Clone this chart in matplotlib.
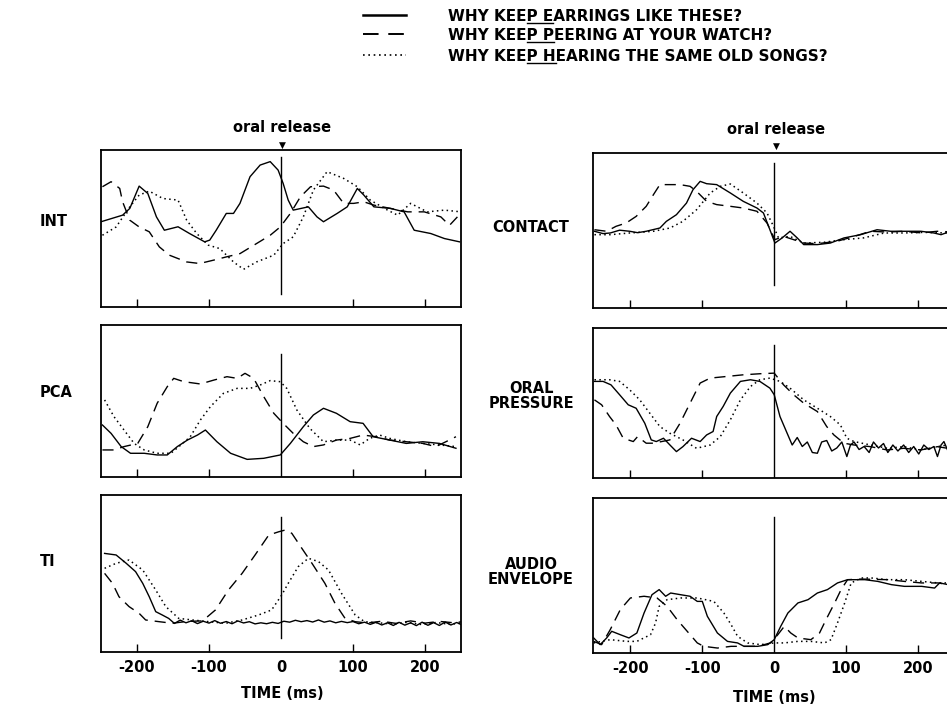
#!/usr/bin/env python
# -*- coding: utf-8 -*-
"""
Articulatory / acoustic traces aligned on oral release for three sentences.
"""

import matplotlib
matplotlib.use("Agg")
import matplotlib.pyplot as plt

FONT = "DejaVu Sans"
FS = 10.5
FS_LEGEND = 11

SENTENCES = [
    "WHY KEEP EARRINGS LIKE THESE?",
    "WHY KEEP PEERING AT YOUR WATCH?",
    "WHY KEEP HEARING THE SAME OLD SONGS?",
]

TICKS = [-200, -100, 0, 100, 200]
TICK_LABELS = ["-200", "-100", "0", "100", "200"]

# values are in % of panel height, time in ms relative to oral release
INT_SOLID_T = [-250, -220, -210, -197, -185, -173, -162, -143, -127, -106, -99, -90, -76, -66, -57, -43,
               -29, -15, -4, 3, 10, 17, 38, 50, 59, 78, 92, 106, 115, 129, 152, 171, 185, 208, 227, 248]
INT_SOLID_V = [54.3, 58.5, 62.8, 77.0, 72.3, 57.4, 48.9, 51.1, 46.8, 41.5, 42.6, 48.9, 59.6, 59.6, 66.0, 83.0,
               90.4, 92.6, 87.2, 78.7, 68.1, 61.7, 63.8, 57.4, 54.3, 59.6, 63.8, 75.5, 71.3, 63.8, 62.8, 60.6,
               48.9, 46.8, 43.6, 41.5]
INT_DASH_T = [-248, -236, -224, -220, -210, -197, -183, -169, -155, -131, -113, -94, -76, -57, -34, -15, -1,
              13, 27, 41, 59, 73, 87, 101, 115, 129, 152, 176, 199, 222, 234, 245]
INT_DASH_V = [76.6, 79.8, 75.5, 67, 55.3, 51, 47.9, 38.3, 33, 28.7, 27.7, 29.8, 31.9, 34, 40.4, 45.7, 51,
              59.6, 70.2, 76.6, 77, 74.5, 66, 66, 67, 64.9, 62.8, 60.6, 60.6, 57.4, 52, 57.4]
INT_DOT_T = [-248, -229, -210, -197, -183, -164, -143, -131, -117, -101, -85, -66, -52, -34, -10, 3, 17, 31,
             45, 64, 87, 106, 124, 148, 162, 180, 203, 227, 250]
INT_DOT_V = [45.7, 51, 63.8, 71.3, 73.8, 69.1, 68.1, 55.3, 46.8, 39.4, 37.2, 28.7, 24, 28.7, 33, 40.4, 44.7,
             57.4, 74.5, 86.2, 81.9, 76.6, 68.1, 61.7, 58.5, 66, 60.6, 61.7, 60.6]

PCA_SOLID_T = [-248, -236, -222, -209, -190, -172, -158, -144, -130, -116, -105, -89, -70, -47, -24, -1, 13,
               31, 45, 59, 77, 96, 114, 128, 151, 174, 197, 220, 243]
PCA_SOLID_V = [34.2, 28.7, 20, 15.6, 15.6, 14.5, 14.5, 20, 24.3, 27.6, 30.9, 23.2, 15.6, 11.6, 12.3, 14.5,
               22.1, 33.1, 40.8, 45.2, 41.9, 36.4, 35.3, 26.5, 24.3, 22.1, 23.2, 22.1, 18.9]
PCA_DASH_T = [-248, -232, -218, -199, -185, -172, -158, -149, -135, -112, -93, -75, -61, -50, -38, -24, -10,
              3, 17, 31, 45, 59, 77, 96, 114, 132, 151, 174, 197, 215, 229, 243]
PCA_DASH_V = [17.8, 17.8, 20, 22.1, 33.1, 48.5, 59.4, 64.9, 62.7, 61.2, 63.8, 66, 64.9, 68.2, 64.9, 52.9,
              41.9, 35.3, 28.7, 23.2, 20, 21.1, 24.3, 25.4, 27.6, 26.5, 24.3, 23.2, 22.1, 20, 23.2, 26.5]
PCA_DOT_T = [-245, -232, -218, -204, -190, -172, -153, -139, -126, -112, -98, -80, -61, -43, -29, -15, -1, 8,
             22, 40, 59, 77, 96, 110, 123, 137, 151, 174, 197, 220, 243]
PCA_DOT_V = [50.7, 39.7, 30.9, 22.1, 17.8, 15.6, 15.6, 21.1, 26.5, 37.5, 46.3, 55, 58.3, 58.3, 60.5, 63.4,
             62.7, 58.3, 44.1, 32, 23.2, 24.3, 24.3, 21.1, 25.4, 27.6, 25.4, 23.2, 22.1, 21.1, 20]

TI_SOLID_T = [-245, -229, -215, -202, -192, -183, -174, -165, -156, -148, -140, -132, -124, -116, -108, -100,
              -92, -84, -76, -68, -60, -52, -44, -36, -28, -20, -12, -4, 4, 12, 20, 28, 36, 44, 52, 60, 68,
              76, 84, 92, 100, 108, 116, 124, 132, 140, 148, 156, 164, 172, 180, 188, 196, 204, 212, 220,
              228, 236, 244, 250]
TI_SOLID_V = [62.8, 61.8, 56.5, 51.2, 43.7, 35.2, 25.7, 23.6, 21.4, 18.2, 20.3, 18.6, 19.9, 18.1, 19.6, 18.4,
              20.0, 18.3, 19.4, 18.0, 19.8, 18.5, 19.3, 17.9, 18.6, 18.0, 18.9, 18.2, 19.6, 19.0, 20.2, 19.3,
              20.0, 19.1, 20.4, 19.0, 19.8, 18.6, 19.5, 18.7, 19.4, 18.0, 19.0, 17.6, 18.9, 17.2, 18.6, 16.9,
              18.9, 17.1, 18.6, 16.8, 19.0, 17.0, 18.7, 16.9, 19.1, 17.2, 18.8, 17.5]
TI_DASH_T = [-245, -234, -225, -211, -197, -188, -169, -151, -130, -109, -91, -73, -54, -36, -17, -3, 6, 15,
             29, 43, 61, 75, 89, 103, 120, 140, 160, 180, 200, 220, 240, 250]
TI_DASH_V = [50.1, 43.7, 35.2, 28.9, 24.6, 20.4, 19.3, 18.3, 19.5, 19.8, 26.8, 39.5, 50.1, 61.8, 74.5, 76.6,
             77.7, 75.6, 66, 56.5, 43.7, 31, 21.4, 19.3, 18.5, 19.6, 18.2, 19.8, 18.4, 19.5, 18.6, 19.2]
TI_DOT_T = [-245, -229, -211, -192, -174, -160, -142, -123, -100, -77, -54, -31, -13, 1, 10, 24, 38, 52, 66,
            84, 103, 116, 135, 155, 175, 195, 215, 235, 250]
TI_DOT_V = [53.3, 56.5, 58.6, 52.2, 39.5, 28.9, 21.4, 20.4, 19.3, 18.3, 20.4, 23.6, 26.8, 36.3, 43.7, 54.4,
            59.7, 57.6, 52.2, 37.4, 23.6, 19.3, 18.6, 17.8, 18.9, 17.5, 18.8, 17.6, 18.4]

CONTACT_SOLID_T = [-250, -238, -228, -215, -201, -190, -178, -159, -150, -136, -122, -113, -103, -94, -80,
                   -61, -43, -24, -15, -6, 1, 11, 22, 32, 41, 60, 78, 97, 120, 143, 162, 180, 204, 222, 232,
                   241, 250]
CONTACT_SOLID_V = [49.5, 48.0, 48.4, 50.2, 49.5, 48.6, 49.5, 51.6, 55.9, 60.2, 67.7, 76.3, 81.7, 80.2, 79.6,
                   74.2, 68.8, 64.5, 61.3, 50.5, 41.9, 45.2, 49.5, 45.2, 40.9, 40.9, 41.9, 45.2, 47.3, 50.5,
                   49.5, 49.5, 49.5, 48.4, 47.3, 48.8, 49]
CONTACT_DASH_T = [-250, -233, -220, -206, -192, -178, -168, -159, -145, -131, -117, -108, -94, -80, -61, -43,
                  -24, -10, 1, 13, 27, 41, 60, 87, 110, 134, 157, 180, 204, 227, 250]
CONTACT_DASH_V = [50.5, 49.5, 52.7, 54.8, 59.1, 65.6, 73.1, 79.6, 79.6, 79.6, 78.5, 75.3, 68.8, 66.7, 65.6,
                  64.5, 62.4, 54.8, 44.1, 46.2, 44.1, 41.9, 41.5, 43, 46, 49.5, 49, 49.5, 48.5, 49.5, 49]
CONTACT_DOT_T = [-250, -228, -201, -168, -145, -127, -108, -89, -75, -61, -43, -24, -10, -1, 6, 22, 41, 69,
                 97, 124, 153, 180, 208, 241, 250]
CONTACT_DOT_V = [47.3, 47.3, 48.4, 49.5, 51.6, 55.9, 63.4, 74.2, 78.5, 80, 74.2, 67.7, 61.3, 52.7, 45.2,
                 46.2, 41.9, 42.4, 44.1, 45.2, 48.4, 48.4, 48.8, 48.4, 48.6]

ORAL_SOLID_T = [-250, -238, -227, -215, -203, -192, -180, -171, -164, -154, -145, -136, -127, -115, -103, -94,
                -85, -80, -71, -61, -47, -33, -20, -6, 0, 8, 18, 25, 32, 39, 46, 53, 60, 66, 73, 80, 87, 94,
                101, 106, 111, 118, 125, 132, 138, 145, 152, 158, 165, 172, 180, 187, 194, 201, 208, 215,
                222, 227, 232, 236, 241, 246, 250]
ORAL_SOLID_V = [64.4, 64.4, 62.1, 55.5, 48.8, 46.5, 36.5, 25.4, 24.3, 26.5, 22, 17.6, 20.9, 26.5, 24.3,
                28.7, 31, 41, 47.7, 56.6, 64.4, 65.5, 64.4, 59.9, 55.5, 41, 29.8, 22, 27, 21, 24, 17, 16.5,
                24, 25, 18, 20, 24, 14.3, 22, 24, 19, 21, 17, 24, 20, 23, 17, 22, 18, 22, 17, 21, 16, 22,
                19, 21, 14.3, 22, 24.3, 18.7, 22, 19]
ORAL_DASH_T = [-250, -240, -229, -220, -210, -196, -190, -178, -168, -145, -131, -117, -103, -89, -66, -43,
               -20, 0, 13, 27, 41, 60, 73, 83, 97, 111, 134, 157, 180, 204, 227, 241, 250]
ORAL_DASH_V = [52.1, 48.8, 41, 35.4, 26.5, 24.3, 27.6, 23.2, 23.2, 25.4, 36.5, 49.9, 63.3, 66.6, 67.7, 68.8,
               69.5, 69.9, 62.1, 55.5, 49.9, 44.3, 34.3, 28.7, 23.2, 22, 20.9, 18.7, 19.8, 18.7, 20.9, 19.8,
               20]
ORAL_DOT_T = [-250, -229, -215, -201, -187, -173, -159, -145, -127, -108, -89, -75, -61, -47, -33, -20, -6,
              8, 22, 41, 60, 78, 92, 101, 111, 134, 157, 180, 204, 227, 241, 250]
ORAL_DOT_V = [65.5, 65.5, 64.4, 58.8, 52.1, 43.2, 34.3, 29.8, 25.4, 19.8, 22, 27.6, 38.8, 52.1, 61, 65.5,
              66.6, 64.4, 59.9, 52.1, 46.5, 41, 35.4, 26.5, 24.3, 22, 19.8, 20.9, 18.7, 20.9, 22, 21]

AUDIO_SOLID_T = [-251, -242, -233, -226, -214, -202, -191, -181, -170, -160, -151, -144, -130, -117, -107,
                 -100, -93, -79, -65, -51, -42, -23, -9, 0, 9, 19, 33, 47, 60, 74, 88, 102, 126, 144, 163,
                 181, 205, 223, 230, 242, 250]
AUDIO_SOLID_V = [9.7, 5.4, 9.7, 14, 11.8, 9.7, 12.9, 25.8, 37.6, 40.9, 36.6, 38.7, 37.6, 36.6, 33.3, 33.3,
                 23.7, 12.9, 7.5, 6.5, 4.3, 4.3, 5.4, 8.6, 17.2, 25.8, 32.3, 34.4, 38.7, 40.9, 45.2, 47.3,
                 47.3, 46.2, 44.1, 43, 43, 41.9, 45.2, 44.1, 44]
AUDIO_DASH_T = [-251, -240, -228, -214, -200, -181, -163, -149, -135, -121, -107, -98, -79, -60, -42, -23,
                -5, 5, 14, 23, 33, 51, 63, 72, 84, 93, 102, 121, 158, 181, 205, 228, 242, 250]
AUDIO_DASH_V = [7.5, 5.4, 15.1, 28, 35.5, 36.6, 35.5, 30.1, 21.5, 14, 6.5, 4.3, 3.2, 4.3, 4.3, 4.3, 6.5,
                11.8, 17.2, 12.9, 9.7, 8.6, 12.9, 21.5, 32.3, 40.9, 47.3, 47.7, 47.3, 46.2, 45.2, 45.2,
                44.1, 44]
AUDIO_DOT_T = [-251, -228, -205, -191, -172, -165, -160, -149, -130, -107, -84, -70, -60, -51, -37, -19, 0,
               14, 33, 51, 70, 79, 88, 98, 107, 121, 135, 158, 181, 205, 228, 242, 250]
AUDIO_DOT_V = [6.5, 8.6, 7.5, 7.5, 11.8, 19.4, 30.1, 34.4, 35.5, 35.5, 33.3, 25.8, 18.3, 10.8, 6.5, 5.4,
               6.5, 6.5, 7.5, 7.5, 6.5, 8.6, 19.4, 32.3, 45.2, 48.4, 48.4, 47.3, 47.3, 46.2, 45.2, 45.2, 45]

# extent of the "oral release" marker line in each panel (% of height)
VLINE_LEFT = [(8.5, 95.7), (0, 81), (9, 86)]
VLINE_RIGHT = [(15, 93.5), (0, 89), (0, 88)]

STYLES = [
    dict(color="black", lw=1.0, ls="-"),
    dict(color="black", lw=1.0, ls=(0, (8, 5))),
    dict(color="black", lw=1.1, ls=(0, (1, 2.2))),
]
LEGEND_LW = [1.8, 1.4, 1.2]

W, H = 947, 707


def px_axes(fig, x0, y0, x1, y1):
    return fig.add_axes([x0 / W, 1 - y1 / H, (x1 - x0) / W, (y1 - y0) / H])


def draw_panel(ax, series, vline, xlim, bottom):
    for (t, v), st in zip(series, STYLES):
        ax.plot(t, v, **st)
    ax.plot([0, 0], vline, color="black", lw=1.0)
    ax.set_xlim(*xlim)
    ax.set_ylim(0, 100)
    ax.set_yticks([])
    for s in ax.spines.values():
        s.set_linewidth(1.3)
    ax.set_xticks(TICKS)
    ax.tick_params(axis="x", direction="in", length=6, width=1.0, pad=6, labelsize=FS)
    if bottom:
        ax.set_xticklabels(TICK_LABELS, fontweight="bold", family=FONT)
    else:
        ax.set_xticklabels([])
    # no tick mark at 0, the release line sits there
    ax.xaxis.get_major_ticks()[2].tick1line.set_visible(False)


def main():
    plt.rcParams["font.family"] = [FONT]
    fig = plt.figure(figsize=(W / 100, H / 100), dpi=100)

    left_rows = [(150, 307), (325, 477), (495, 652)]
    right_rows = [(153, 308), (328, 478), (498, 653)]

    left_data = [
        [(INT_SOLID_T, INT_SOLID_V), (INT_DASH_T, INT_DASH_V), (INT_DOT_T, INT_DOT_V)],
        [(PCA_SOLID_T, PCA_SOLID_V), (PCA_DASH_T, PCA_DASH_V), (PCA_DOT_T, PCA_DOT_V)],
        [(TI_SOLID_T, TI_SOLID_V), (TI_DASH_T, TI_DASH_V), (TI_DOT_T, TI_DOT_V)],
    ]
    right_data = [
        [(CONTACT_SOLID_T, CONTACT_SOLID_V), (CONTACT_DASH_T, CONTACT_DASH_V), (CONTACT_DOT_T, CONTACT_DOT_V)],
        [(ORAL_SOLID_T, ORAL_SOLID_V), (ORAL_DASH_T, ORAL_DASH_V), (ORAL_DOT_T, ORAL_DOT_V)],
        [(AUDIO_SOLID_T, AUDIO_SOLID_V), (AUDIO_DASH_T, AUDIO_DASH_V), (AUDIO_DOT_T, AUDIO_DOT_V)],
    ]

    for i, (y0, y1) in enumerate(left_rows):
        ax = px_axes(fig, 101, y0, 461, y1)
        draw_panel(ax, left_data[i], VLINE_LEFT[i], (-250, 250), i == 2)
    for i, (y0, y1) in enumerate(right_rows):
        ax = px_axes(fig, 593, y0, 954, y1)
        draw_panel(ax, right_data[i], VLINE_RIGHT[i], (-252, 250), i == 2)

    bold = dict(fontsize=FS, fontweight="bold", family=FONT)

    # row labels
    for txt, y in [("INT", 222), ("PCA", 392), ("TI", 562)]:
        fig.text(40 / W, 1 - y / H, txt, ha="left", va="center", **bold)
    for txt, y in [("CONTACT", 228), ("ORAL\nPRESSURE", 396), ("AUDIO\nENVELOPE", 572)]:
        fig.text(531 / W, 1 - y / H, txt, ha="center", va="center", ma="center",
                 linespacing=1.05, **bold)

    # oral release markers
    for x, y in [(282, 128), (776, 129)]:
        fig.text(x / W, 1 - y / H, "oral release", ha="center", va="center", **bold)
        fig.text(x / W, 1 - (y + 17) / H, "\u25bc", ha="center", va="center",
                 fontsize=6.5, family=FONT)

    fig.text(282 / W, 1 - 693 / H, "TIME (ms)", ha="center", va="center", **bold)
    fig.text(774 / W, 1 - 698 / H, "TIME (ms)", ha="center", va="center", **bold)

    # legend with underlined "P X" part of each sentence
    leg = dict(fontsize=FS_LEGEND, fontweight="bold", family=FONT)
    renderer = fig.canvas.get_renderer()
    rows_y = [15, 34, 55]
    for (sent, y, st, llw) in zip(SENTENCES, rows_y, STYLES, LEGEND_LW):
        st = dict(st, lw=llw)
        fig.add_artist(plt.Line2D([363 / W, 406 / W], [1 - y / H, 1 - y / H],
                                  transform=fig.transFigure, **st))
        t = fig.text(448 / W, 1 - y / H, sent, ha="left", va="center_baseline", **leg)
        x_left = t.get_window_extent(renderer).x0
        tmp = fig.text(0, 0, sent[:7], **leg)
        w0 = tmp.get_window_extent(renderer).width
        tmp.set_text(sent[:10])
        w1 = tmp.get_window_extent(renderer).width
        tmp.remove()
        uy = 1 - (y + 8) / H
        fig.add_artist(plt.Line2D([(x_left + w0) / W, (x_left + w1) / W], [uy, uy],
                                  transform=fig.transFigure, color="black", lw=1.0))

    fig.savefig("out.png", dpi=100)


if __name__ == "__main__":
    main()
